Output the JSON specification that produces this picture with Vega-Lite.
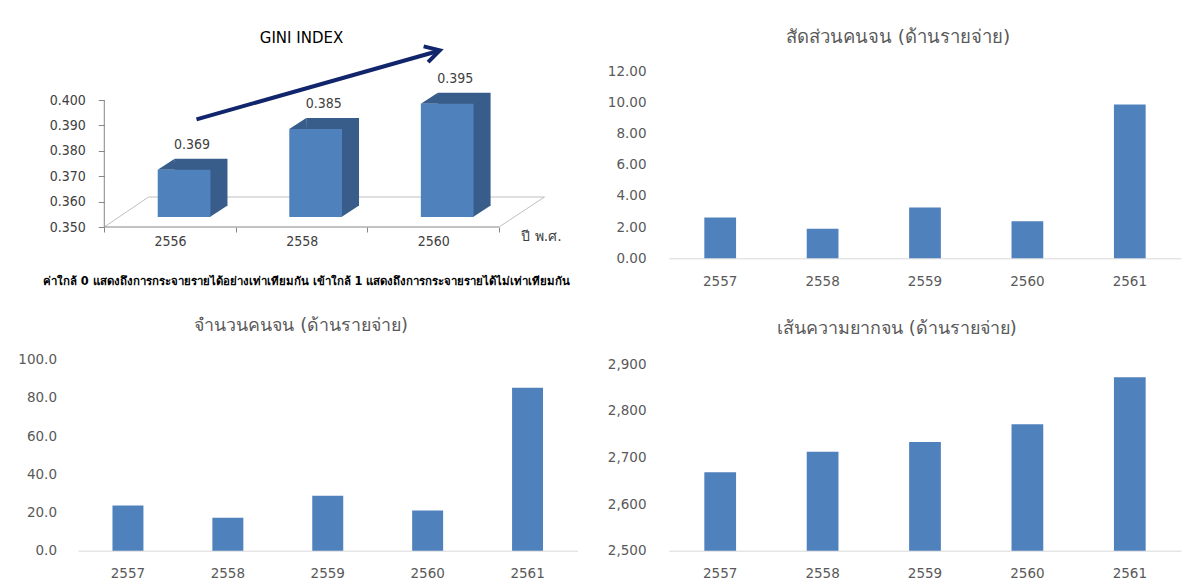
{
  "$schema": "https://vega.github.io/schema/vega-lite/v6.json",
  "padding": {"left": 17, "top": 27, "right": 13, "bottom": 5},
  "background": "white",
  "columns": 2,
  "spacing": {"row": 100.7, "column": 91},
  "bounds": "flush",
  "datasets": {
    "gini": [
      {"year": "2556", "value": 0.369},
      {"year": "2558", "value": 0.385},
      {"year": "2560", "value": 0.395}
    ],
    "ratio": [
      {"year": "2557", "value": 2.61},
      {"year": "2558", "value": 1.89},
      {"year": "2559", "value": 3.26},
      {"year": "2560", "value": 2.38},
      {"year": "2561", "value": 9.86}
    ],
    "count": [
      {"year": "2557", "value": 23.6},
      {"year": "2558", "value": 17.3},
      {"year": "2559", "value": 28.8},
      {"year": "2560", "value": 21.1},
      {"year": "2561", "value": 85.3}
    ],
    "line": [
      {"year": "2557", "value": 2668},
      {"year": "2558", "value": 2712},
      {"year": "2559", "value": 2733},
      {"year": "2560", "value": 2771},
      {"year": "2561", "value": 2872}
    ]
  },
  "config": {
    "view": {"stroke": null},
    "font": "DejaVu Sans",
    "axis": {
      "labelFont": "DejaVu Sans",
      "labelColor": "#595959",
      "labelFontSize": 13.5,
      "labelOverlap": false,
      "grid": false,
      "domainColor": "#D9D9D9",
      "ticks": false,
      "title": null
    },
    "title": {
      "font": "DejaVu Sans",
      "fontSize": 18,
      "fontWeight": "normal",
      "color": "#595959",
      "anchor": "middle",
      "frame": "group",
      "offset": 18
    }
  },
  "concat": [
    {
      "width": 421,
      "height": 156,
      "title": {"text": "GINI INDEX", "color": "#000000", "fontSize": 15, "dx": 13, "offset": -8},
      "data": {"name": "gini"},
      "layer": [
        {
          "data": {"values": [{}]},
          "mark": {"type": "rule", "color": "#BFBFBF", "strokeWidth": 1, "xOffset": 65.8, "x2Offset": 111.3},
          "encoding": {
            "x": {"datum": "2560"},
            "x2": {"datum": "2560"},
            "y": {"datum": 0.35},
            "y2": {"datum": 0.3618}
          }
        },
        {
          "data": {"values": [{}]},
          "mark": {"type": "rule", "color": "#BFBFBF", "strokeWidth": 1, "xOffset": -21.6, "x2Offset": 111.3},
          "encoding": {
            "x": {"datum": "2556"},
            "x2": {"datum": "2560"},
            "y": {"datum": 0.3618},
            "y2": {"datum": 0.3618}
          }
        },
        {
          "data": {"values": [{}]},
          "mark": {"type": "rule", "color": "#BFBFBF", "strokeWidth": 1, "xOffset": -65.8, "x2Offset": -21.6},
          "encoding": {
            "x": {"datum": "2556"},
            "x2": {"datum": "2556"},
            "y": {"datum": 0.35},
            "y2": {"datum": 0.3618}
          }
        },
        {
          "data": {"values": [{}]},
          "mark": {"type": "rule", "color": "#868686", "strokeWidth": 1, "xOffset": -65.8, "x2Offset": 65.8},
          "encoding": {
            "x": {"datum": "2556"},
            "x2": {"datum": "2560"},
            "y": {"datum": 0.35},
            "y2": {"datum": 0.35}
          }
        },
        {
          "data": {"values": [{}]},
          "mark": {"type": "rule", "color": "#868686", "strokeWidth": 1, "xOffset": -65.8, "x2Offset": -65.8},
          "encoding": {
            "x": {"datum": "2556"},
            "x2": {"datum": "2556"},
            "y": {"datum": 0.35},
            "y2": {"datum": 0.40}
          }
        },
        {
          "mark": {"type": "bar", "color": "#385D8A", "width": {"band": 0.401}, "xOffset": 31, "yOffset": -20, "y2Offset": -21},
          "encoding": {
            "x": {"field": "year", "type": "nominal"},
            "y": {"field": "value", "type": "quantitative"},
            "y2": {"datum": 0.35}
          }
        },
        {
          "mark": {"type": "point", "shape": "M0,0L17,-11L17.6,0Z", "size": 4, "filled": true, "color": "#385D8A", "opacity": 1, "strokeWidth": 0, "xOffset": -12.4, "yOffset": -9},
          "encoding": {
            "x": {"field": "year", "type": "nominal"},
            "y": {"field": "value", "type": "quantitative"}
          }
        },
        {
          "mark": {"type": "point", "shape": "M-0.6,0L-0.6,-11.6L17,-11.6Z", "size": 4, "filled": true, "color": "#385D8A", "opacity": 1, "strokeWidth": 0, "xOffset": 40.4, "yOffset": -10},
          "encoding": {
            "x": {"field": "year", "type": "nominal"},
            "y": {"datum": 0.35}
          }
        },
        {
          "mark": {"type": "bar", "color": "#4F81BD", "width": {"band": 0.401}, "xOffset": 14, "yOffset": -9, "y2Offset": -10},
          "encoding": {
            "x": {
              "field": "year",
              "type": "nominal",
              "scale": {"paddingInner": 0, "paddingOuter": 0.1, "align": 1},
              "axis": {
                "domain": false,
                "ticks": true,
                "tickBand": "extent",
                "tickSize": 5,
                "tickColor": "#868686",
                "labelPadding": 9,
                "labelAngle": 0,
                "labelAlign": "center",
                "labelFont": "DejaVu Sans Condensed",
                "labelColor": "#404040",
                "labelFontSize": 14,
                "title": "ปี พ.ศ.",
                "titleX": 463,
                "titleY": 9,
                "titleAlign": "center",
                "titleBaseline": "middle",
                "titleFontWeight": "normal",
                "titleFontSize": 14,
                "titleColor": "#404040"
              }
            },
            "y": {
              "field": "value",
              "type": "quantitative",
              "scale": {"domain": [0.35, 0.41142], "zero": false, "nice": false},
              "axis": {
                "values": [0.35, 0.36, 0.37, 0.38, 0.39, 0.40],
                "tickCount": 12,
                "format": ".3f",
                "domain": false,
                "ticks": true,
                "tickSize": 6,
                "tickColor": "#868686",
                "labelPadding": 13,
                "labelOverlap": false,
                "offset": -26.3,
                "labelFont": "DejaVu Sans Condensed",
                "labelColor": "#404040",
                "labelFontSize": 14
              }
            },
            "y2": {"datum": 0.35}
          }
        },
        {
          "mark": {"type": "text", "font": "DejaVu Sans Condensed", "fontSize": 14, "color": "#404040", "xOffset": 22, "yOffset": -34, "baseline": "middle"},
          "encoding": {
            "x": {"field": "year", "type": "nominal"},
            "y": {"field": "value", "type": "quantitative"},
            "text": {"field": "value", "type": "quantitative", "format": ".3f"}
          }
        },
        {
          "data": {"values": [{}]},
          "mark": {"type": "rule", "color": "#10256B", "strokeWidth": 4, "xOffset": 26.4, "x2Offset": 5},
          "encoding": {
            "x": {"datum": "2556"},
            "x2": {"datum": "2560"},
            "y": {"datum": 0.3924},
            "y2": {"datum": 0.4193}
          }
        },
        {
          "data": {"values": [{}]},
          "mark": {"type": "point", "shape": "M-1,-0.566L0,0L-1,0.566", "size": 841, "angle": 344.2, "filled": false, "stroke": "#10256B", "strokeWidth": 4, "opacity": 1, "xOffset": 6.6, "strokeJoin": "miter"},
          "encoding": {
            "x": {"datum": "2560"},
            "y": {"datum": 0.41957}
          }
        },
        {
          "data": {"values": [{}]},
          "mark": {"type": "text", "text": "ค่าใกล้ 0 แสดงถึงการกระจายรายได้อย่างเท่าเทียมกัน เข้าใกล้ 1 แสดงถึงการกระจายรายได้ไม่เท่าเทียมกัน", "fontSize": 11.4, "fontWeight": "bold", "color": "#000000", "xOffset": 5, "yOffset": 55, "baseline": "middle", "align": "center"},
          "encoding": {
            "x": {"datum": "2558"},
            "y": {"datum": 0.35}
          }
        }
      ]
    },
    {
      "width": 512,
      "height": 187.3,
      "title": {"text": "สัดส่วนคนจน (ด้านรายจ่าย)", "dx": -27, "fontSize": 18.5},
      "data": {"name": "ratio"},
      "mark": {"type": "bar", "color": "#4F81BD", "width": {"band": 0.31}},
      "encoding": {
        "x": {
          "field": "year", "type": "nominal",
          "scale": {"paddingInner": 0, "paddingOuter": 0},
          "axis": {"labelAngle": 0, "labelPadding": 16}
        },
        "y": {
          "field": "value", "type": "quantitative",
          "scale": {"domain": [0, 12], "nice": false},
          "axis": {"values": [0, 2, 4, 6, 8, 10, 12], "format": ".2f", "domain": false, "labelPadding": 23}
        }
      }
    },
    {
      "width": 499.5,
      "height": 191,
      "title": {"text": "จำนวนคนจน (ด้านรายจ่าย)", "dx": -26.5, "fontSize": 17.8},
      "data": {"name": "count"},
      "mark": {"type": "bar", "color": "#4F81BD", "width": {"band": 0.31}},
      "encoding": {
        "x": {
          "field": "year", "type": "nominal",
          "scale": {"paddingInner": 0, "paddingOuter": 0},
          "axis": {"labelAngle": 0, "labelPadding": 16}
        },
        "y": {
          "field": "value", "type": "quantitative",
          "scale": {"domain": [0, 100], "nice": false},
          "axis": {"values": [0, 20, 40, 60, 80, 100], "format": ".1f", "domain": false, "labelPadding": 21.5}
        }
      }
    },
    {
      "width": 512,
      "height": 191,
      "title": {"text": "เส้นความยากจน (ด้านรายจ่าย)", "dx": -28, "fontSize": 17.9, "offset": 19},
      "data": {"name": "line"},
      "mark": {"type": "bar", "color": "#4F81BD", "width": {"band": 0.31}},
      "encoding": {
        "x": {
          "field": "year", "type": "nominal",
          "scale": {"paddingInner": 0, "paddingOuter": 0},
          "axis": {"labelAngle": 0, "labelPadding": 16}
        },
        "y": {
          "field": "value", "type": "quantitative",
          "scale": {"domain": [2500, 2909.4], "zero": false, "nice": false},
          "axis": {"values": [2500, 2600, 2700, 2800, 2900], "format": ",d", "domain": false, "labelPadding": 23}
        },
        "y2": {"datum": 2500}
      }
    }
  ]
}
